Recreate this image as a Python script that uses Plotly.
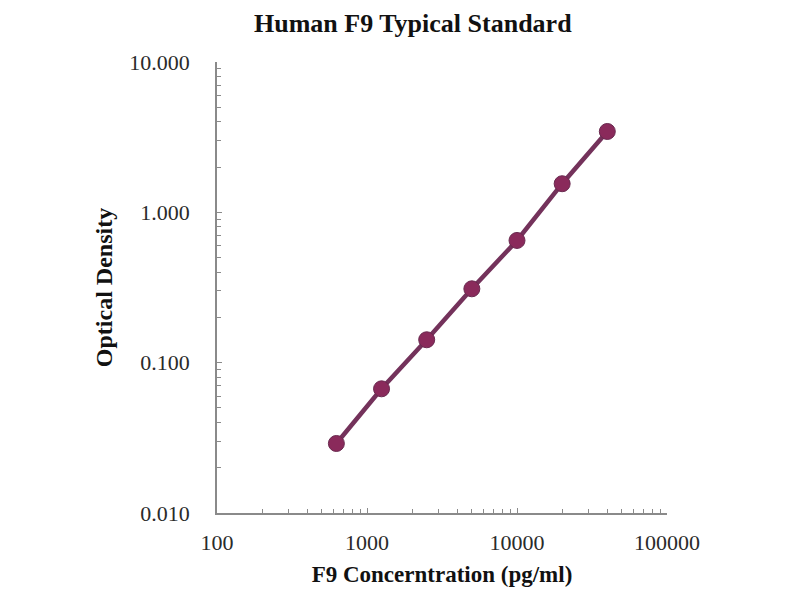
import plotly.graph_objects as go

# standard curve points
concentration = [625, 1250, 2500, 5000, 10000, 20000, 40000]
optical_density = [0.029, 0.067, 0.142, 0.31, 0.65, 1.55, 3.45]

x_ticks = [100, 1000, 10000, 100000]
x_labels = ["100", "1000", "10000", "100000"]
y_ticks = [0.01, 0.1, 1, 10]
y_labels = ["0.010", "0.100", "1.000", "10.000"]

SERIF = "Liberation Serif, Times New Roman, serif"

fig = go.Figure()
fig.add_trace(
    go.Scatter(
        x=concentration,
        y=optical_density,
        mode="lines+markers",
        line=dict(color="#74325b", width=4.5),
        marker=dict(size=16, color="#8a2a5b", line=dict(color="#6a2a50", width=1)),
        showlegend=False,
    )
)

axis_common = dict(
    type="log",
    showgrid=False,
    zeroline=False,
    showline=True,
    linecolor="#8a8a8a",
    linewidth=1.5,
    ticks="inside",
    ticklen=5,
    tickcolor="#8a8a8a",
    tickfont=dict(family=SERIF, size=22, color="#2a2a2a"),
    minor=dict(ticks="inside", ticklen=4, tickcolor="#8a8a8a", dtick="D1", showgrid=False),
)

fig.update_xaxes(
    **axis_common,
    range=[2, 5],
    tickvals=x_ticks,
    ticktext=x_labels,
    ticklabelstandoff=9,
    title=dict(text="<b>F9 Concerntration (pg/ml)</b>",
               font=dict(family=SERIF, size=23, color="#111111"), standoff=12),
)
fig.update_yaxes(
    **axis_common,
    range=[-2, 1],
    tickvals=y_ticks,
    ticktext=y_labels,
    ticklabelstandoff=21,
    title=dict(text="<b>Optical Density</b>",
               font=dict(family=SERIF, size=24, color="#111111"), standoff=10),
)

# the page body adds an 8px offset, margins are chosen so the plot box lands at 217..667 x 62..513
fig.update_layout(
    width=800,
    height=600,
    paper_bgcolor="white",
    plot_bgcolor="white",
    margin=dict(l=209, r=141, t=54, b=95),
    title=dict(text="<b>Human F9 Typical Standard</b>", x=0.506, xanchor="center",
               y=0.976, yanchor="middle",
               font=dict(family=SERIF, size=26, color="#111111")),
)

fig.write_html("out.html")
